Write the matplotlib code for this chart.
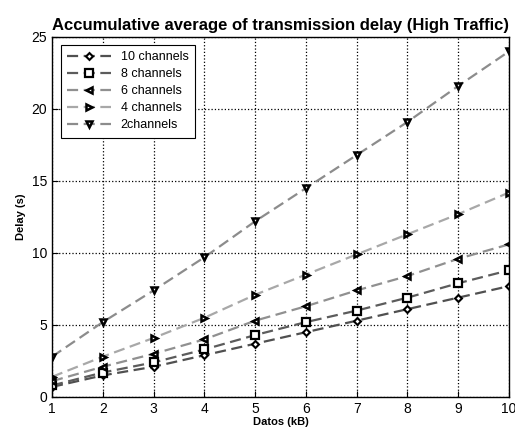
import numpy as np
import matplotlib
matplotlib.use("Agg")
import matplotlib.pyplot as plt

datos = [1, 2, 3, 4, 5, 6, 7, 8, 9, 10]
ch10 = [0.7, 1.5, 2.1, 2.9, 3.7, 4.5, 5.3, 6.1, 6.9, 7.7]
ch8 = [0.8, 1.7, 2.4, 3.3, 4.3, 5.2, 6.0, 6.9, 7.9, 8.8]
ch6 = [1.1, 2.1, 3.0, 4.0, 5.3, 6.3, 7.4, 8.4, 9.6, 10.6]
ch4 = [1.4, 2.8, 4.1, 5.5, 7.1, 8.5, 9.9, 11.3, 12.7, 14.2]
ch2 = [2.8, 5.2, 7.4, 9.7, 12.2, 14.5, 16.8, 19.1, 21.6, 24.0]

plt.rcParams['font.family'] = ['Liberation Sans', 'DejaVu Sans']

fig = plt.figure(figsize=(5.15, 4.29), dpi=100)
ax = fig.add_axes([52/515, 1-397/429, 457/515, 360/429])

dash = (0, (5, 2.5))
ax.plot(datos, ch10, color='#505050', linestyle=dash, linewidth=1.6, marker='D', markersize=3.5,
        markerfacecolor='white', markeredgecolor='black', markeredgewidth=1.5, label='10 channels')
ax.plot(datos, ch8, color='#5c5c5c', linestyle=dash, linewidth=1.6, marker='s', markersize=6,
        markerfacecolor='white', markeredgecolor='black', markeredgewidth=1.6, label='8 channels')
ax.plot(datos, ch6, color='#909090', linestyle=dash, linewidth=1.6, marker='<', markersize=4.5,
        markerfacecolor='white', markeredgecolor='black', markeredgewidth=1.8, label='6 channels')
ax.plot(datos, ch4, color='#a8a8a8', linestyle=dash, linewidth=1.6, marker='>', markersize=4.5,
        markerfacecolor='white', markeredgecolor='black', markeredgewidth=1.8, label='4 channels')
ax.plot(datos, ch2, color='#8c8c8c', linestyle=dash, linewidth=1.6, marker='v', markersize=5,
        markerfacecolor='white', markeredgecolor='black', markeredgewidth=1.8, label='2channels')

ax.set_xlim(1, 10)
ax.set_ylim(0, 25)
ax.set_xticks(datos)
ax.set_yticks([0, 5, 10, 15, 20, 25])
ax.grid(True, linestyle=':', color='black', linewidth=0.9)
ax.tick_params(direction='in', labelsize=10, length=4)
for s in ax.spines.values():
    s.set_linewidth(1.0)

ax.set_title('Accumulative average of transmission delay (High Traffic)', fontsize=12,
             fontweight='bold', pad=5)
ax.set_xlabel('Datos (kB)', fontsize=8, fontweight='bold', labelpad=1)
ax.set_ylabel('Delay (s)', fontsize=8, fontweight='bold')

leg = ax.legend(loc='upper left', fontsize=9, fancybox=False, framealpha=1,
                edgecolor='black', handlelength=3.5, borderpad=0.5, labelspacing=0.4,
                bbox_to_anchor=(0.005, 0.995), borderaxespad=0.5)
leg.get_frame().set_linewidth(0.8)

fig.savefig('out.png', dpi=100)
